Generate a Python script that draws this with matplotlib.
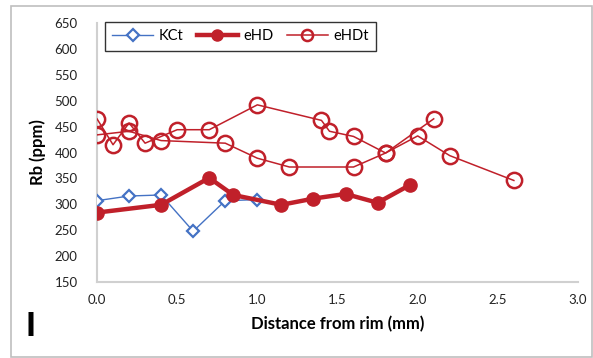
import matplotlib
matplotlib.use("Agg")
import matplotlib.pyplot as plt
from matplotlib.patches import Rectangle
from matplotlib.lines import Line2D

plt.rcParams['font.family'] = ['Lato', 'DejaVu Sans']

# KCt
kct_x = [0.0, 0.2, 0.4, 0.6, 0.8, 1.0]
kct_y = [307, 316, 318, 248, 307, 309]

# eHD
ehd_x = [0.0, 0.4, 0.7, 0.85, 1.15, 1.35, 1.55, 1.75, 1.95]
ehd_y = [284, 299, 351, 318, 299, 311, 320, 303, 337]

# eHDt (two traverses)
ehdt1_x = [0.0, 0.1, 0.2, 0.3, 0.5, 0.7, 1.0, 1.4, 1.45, 1.6, 1.8, 2.0, 2.2, 2.6]
ehdt1_y = [465, 415, 457, 418, 444, 444, 492, 462, 441, 431, 399, 432, 394, 346]
ehdt2_x = [0.0, 0.2, 0.4, 0.8, 1.0, 1.2, 1.6, 1.8, 2.1]
ehdt2_y = [434, 441, 423, 418, 389, 372, 372, 399, 465]

x_ticks = [0.0, 0.5, 1.0, 1.5, 2.0, 2.5, 3.0]
y_ticks = [150, 200, 250, 300, 350, 400, 450, 500, 550, 600, 650]

red = '#C0202A'
blue = '#4472C4'

fig = plt.figure(figsize=(5.93, 3.58), dpi=100)
ax = fig.add_axes([97/593, 1-282/358, (578-97)/593, (282-23)/358])

ax.plot(kct_x, kct_y, color=blue, lw=1.0, marker='D', ms=6.5, mfc='white',
        mec=blue, mew=1.6, zorder=3)
ax.plot(ehdt1_x, ehdt1_y, color=red, lw=1.1, marker='o', ms=11, mfc='none',
        mec=red, mew=1.8, zorder=4)
ax.plot(ehdt2_x, ehdt2_y, color=red, lw=1.1, marker='o', ms=11, mfc='none',
        mec=red, mew=1.8, zorder=4)
ax.plot(ehd_x, ehd_y, color=red, lw=3.2, marker='o', ms=9.5, mfc=red,
        mec=red, zorder=5)

ax.set_xlim(0, 3.0)
ax.set_ylim(150, 650)
ax.set_xticks(x_ticks)
ax.set_xticklabels([f"{v:.1f}" for v in x_ticks])
ax.set_yticks(y_ticks)
ax.set_yticklabels([str(v) for v in y_ticks])
ax.tick_params(length=0, labelsize=9.5, colors='#222222')
ax.tick_params(axis='x', pad=9)
ax.tick_params(axis='y', pad=14)
for s in ['top', 'right']:
    ax.spines[s].set_visible(False)
for s in ['left', 'bottom']:
    ax.spines[s].set_color('#D0D0D0')
    ax.spines[s].set_linewidth(1.5)
for lbl in ax.get_xticklabels() + ax.get_yticklabels():
    lbl.set_clip_on(False)

ax.set_xlabel('Distance from rim (mm)', fontsize=12, fontweight='bold', labelpad=7)
ax.set_ylabel('Rb (ppm)', fontsize=12, fontweight='bold', labelpad=6)

handles = [
    Line2D([], [], color=blue, lw=1.0, marker='D', ms=6, mfc='white', mec=blue, mew=1.6),
    Line2D([], [], color=red, lw=3.2, marker='o', ms=8, mfc=red, mec=red),
    Line2D([], [], color=red, lw=1.1, marker='o', ms=8, mfc='none', mec=red, mew=1.8),
]
leg = ax.legend(handles, ['KCt', 'eHD', 'eHDt'], loc='upper left',
                bbox_to_anchor=(105/593, 1-22/358), bbox_transform=fig.transFigure,
                ncol=3, frameon=True, fancybox=False, fontsize=10.5,
                handlelength=2.8, columnspacing=0.9, handletextpad=0.4,
                borderpad=0.5, borderaxespad=0)
leg.get_frame().set_edgecolor('black')
leg.get_frame().set_linewidth(1.0)

fig.text(30/593, 1-326/358, 'I', fontsize=24, fontweight='black', ha='center', va='center')

fig.patches.append(Rectangle((11/593, 1-357/358), (592-11)/593, (357-6)/358,
                             transform=fig.transFigure, fill=False,
                             edgecolor='#BFBFBF', lw=1.2))

fig.savefig('out.png', dpi=100)
